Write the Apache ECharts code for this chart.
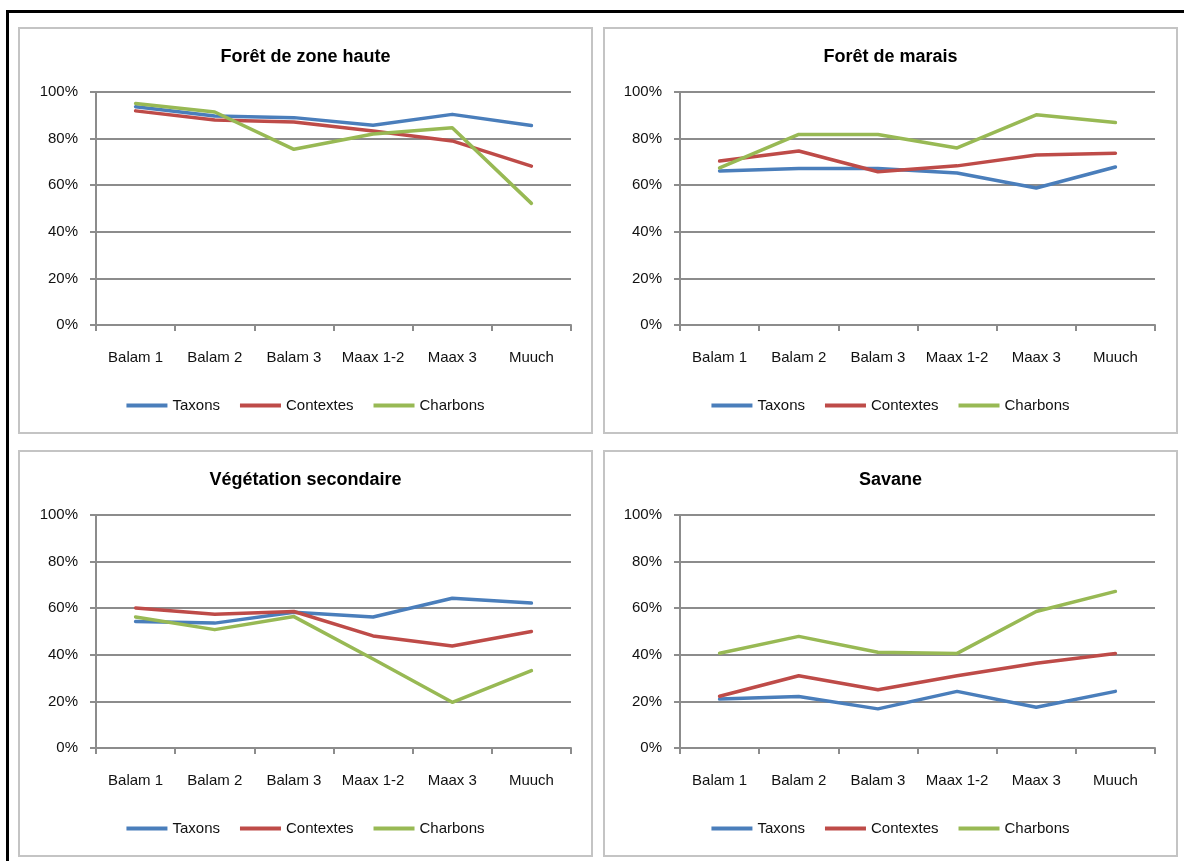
<!DOCTYPE html>
<html>
<head>
<meta charset="utf-8">
<title>Taxons, contextes et charbons par formation végétale</title>
<script src="https://cdn.jsdelivr.net/npm/echarts@6/dist/echarts.min.js"></script>
<style>
  html, body { margin: 0; padding: 0; background: #ffffff; }
  body { width: 1184px; height: 861px; position: relative; overflow: hidden; }
  .frame { position: absolute; left: 6px; top: 10px; right: 0; bottom: 0;
           border-left: 3px solid #000; border-top: 3px solid #000; }
  .panel { position: absolute; width: 575px; height: 407px; box-sizing: border-box;
           border: 2px solid #c4c4c4; background: #fff; }
  .panel .chart { width: 100%; height: 100%; }
</style>
</head>
<body>
<div class="frame"></div>
<div class="panel" style="left:18px; top:27px;"><div class="chart" id="c1"></div></div>
<div class="panel" style="left:603px; top:27px;"><div class="chart" id="c2"></div></div>
<div class="panel" style="left:18px; top:450px;"><div class="chart" id="c3"></div></div>
<div class="panel" style="left:603px; top:450px;"><div class="chart" id="c4"></div></div>
<script>
// Site phases along the horizontal axis
const categories = ['Balam 1', 'Balam 2', 'Balam 3', 'Maax 1-2', 'Maax 3', 'Muuch'];
const seriesNames = ['Taxons', 'Contextes', 'Charbons'];
const yTickValues = [0, 20, 40, 60, 80, 100];

// Forêt de zone haute (%)
const hautTaxons    = [93.7, 89.7, 89.0, 85.7, 90.4, 85.6];
const hautContextes = [91.9, 88.0, 87.1, 83.3, 79.0, 68.2];
const hautCharbons  = [95.1, 91.4, 75.4, 82.0, 84.7, 52.2];

// Forêt de marais (%)
const maraisTaxons    = [66.1, 67.2, 67.2, 65.2, 58.8, 67.8];
const maraisContextes = [70.4, 74.7, 65.8, 68.3, 73.0, 73.7];
const maraisCharbons  = [67.4, 81.8, 81.8, 76.0, 90.2, 86.9];

// Végétation secondaire (%)
const secTaxons    = [54.3, 53.6, 58.3, 56.2, 64.3, 62.2];
const secContextes = [60.1, 57.4, 58.6, 48.1, 43.8, 50.0];
const secCharbons  = [56.2, 50.8, 56.4, 38.2, 19.6, 33.2];

// Savane (%)
const savTaxons    = [21.0, 22.1, 16.8, 24.3, 17.5, 24.3];
const savContextes = [22.2, 31.0, 25.0, 31.0, 36.4, 40.6];
const savCharbons  = [40.7, 47.9, 41.1, 40.6, 58.6, 67.2];

const lineColors = ['#4a7ebb', '#be4b48', '#98b954'];
const FONT = '"Liberation Sans", Arial, sans-serif';
const AXIS_GRAY = '#8c8c8c';
const TEXT_COLOR = '#111';

function drawPanel(domId, title, values, gridLeft) {
  const chart = echarts.init(document.getElementById(domId), null, { renderer: 'canvas' });
  chart.setOption({
    animation: false,
    color: lineColors,
    textStyle: { fontFamily: FONT },
    title: {
      text: title,
      left: 'center',
      top: 14,
      textStyle: { fontFamily: FONT, fontSize: 18, fontWeight: 'bold', color: '#000' }
    },
    legend: {
      data: seriesNames,
      left: 'center',
      top: 364,
      icon: 'rect',
      itemWidth: 41,
      itemHeight: 4,
      itemGap: 20,
      textStyle: { fontFamily: FONT, fontSize: 15, color: TEXT_COLOR }
    },
    grid: { left: gridLeft, top: 63, width: 475, height: 233 },
    xAxis: {
      type: 'category',
      data: categories,
      boundaryGap: true,
      axisLine: { lineStyle: { color: AXIS_GRAY, width: 2 } },
      axisTick: { show: true, interval: 0, length: 6, lineStyle: { color: AXIS_GRAY, width: 2 } },
      axisLabel: { interval: 0, margin: 25, fontFamily: FONT, fontSize: 15, color: TEXT_COLOR }
    },
    yAxis: {
      type: 'value',
      min: yTickValues[0],
      max: yTickValues[yTickValues.length - 1],
      interval: yTickValues[1] - yTickValues[0],
      axisLine: { show: true, lineStyle: { color: AXIS_GRAY, width: 2 } },
      axisTick: { show: true, length: 6, lineStyle: { color: AXIS_GRAY, width: 2 } },
      splitLine: { show: true, lineStyle: { color: AXIS_GRAY, width: 2 } },
      axisLabel: { formatter: '{value}%', margin: 18, fontFamily: FONT, fontSize: 15, color: TEXT_COLOR }
    },
    series: values.map((arr, i) => ({
      name: seriesNames[i],
      type: 'line',
      data: arr,
      showSymbol: false,
      symbol: 'none',
      lineStyle: { width: 3.5, color: lineColors[i], join: 'round', cap: 'round' },
      itemStyle: { color: lineColors[i] }
    }))
  });
}

drawPanel('c1', 'Forêt de zone haute', [hautTaxons, hautContextes, hautCharbons], 76);
drawPanel('c2', 'Forêt de marais', [maraisTaxons, maraisContextes, maraisCharbons], 75);
drawPanel('c3', 'Végétation secondaire', [secTaxons, secContextes, secCharbons], 76);
drawPanel('c4', 'Savane', [savTaxons, savContextes, savCharbons], 75);
</script>
</body>
</html>
